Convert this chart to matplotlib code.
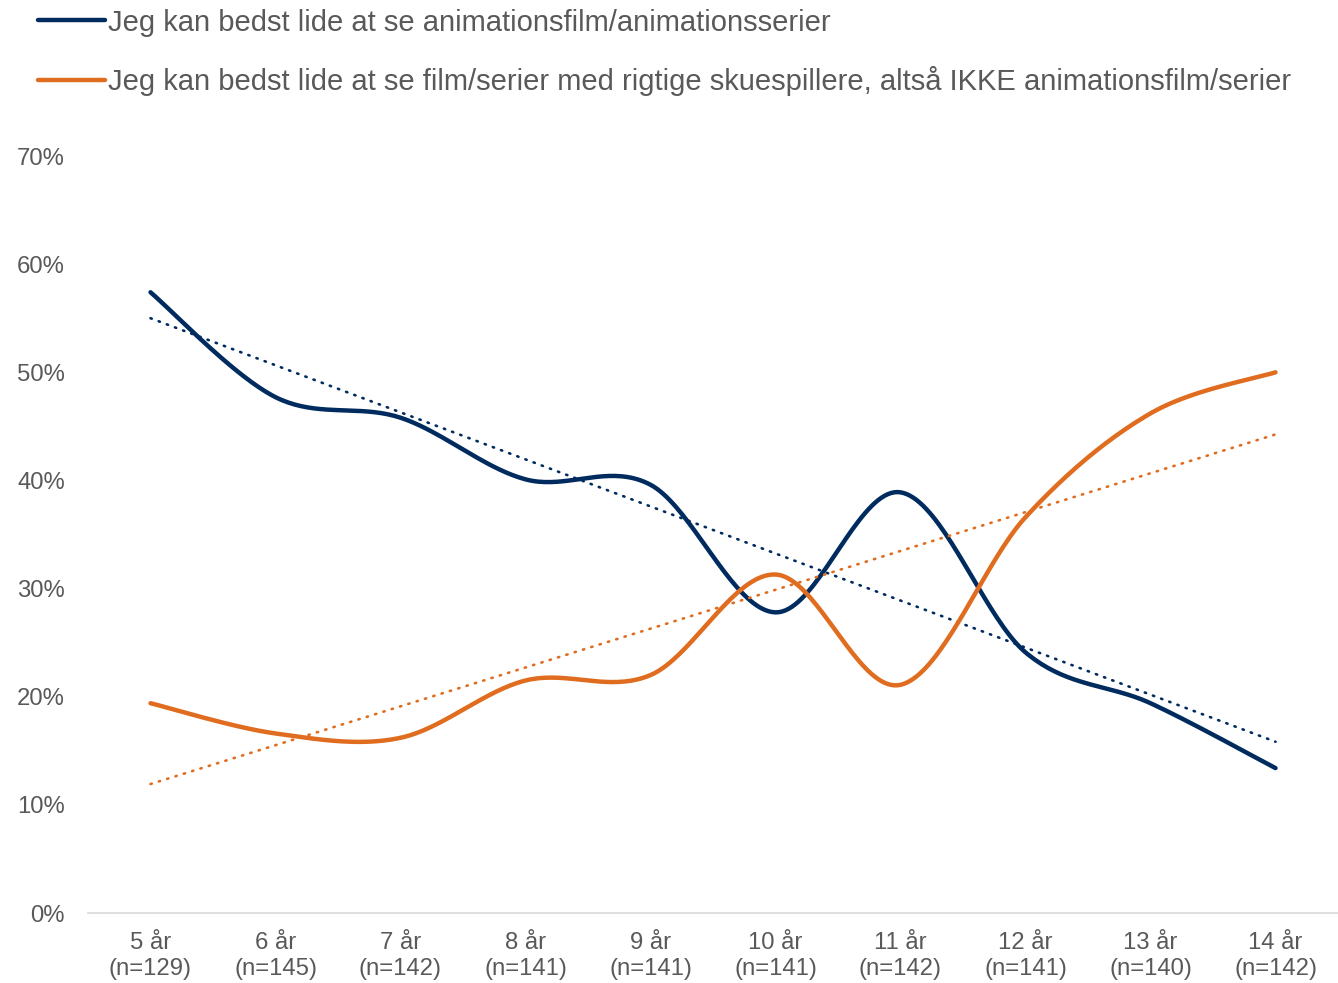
import matplotlib.pyplot as plt
import numpy as np

plt.rcParams['font.family'] = ['Liberation Sans', 'DejaVu Sans']

# Data
kategorier = ['5 år\n(n=129)', '6 år\n(n=145)', '7 år\n(n=142)', '8 år\n(n=141)', '9 år\n(n=141)',
              '10 år\n(n=141)', '11 år\n(n=142)', '12 år\n(n=141)', '13 år\n(n=140)', '14 år\n(n=142)']
animation = [57.4, 47.7, 45.8, 40.1, 39.6, 27.8, 38.9, 24.1, 19.4, 13.4]
rigtige = [19.4, 16.6, 16.2, 21.5, 22.0, 31.3, 21.1, 36.6, 46.2, 50.0]

navn_animation = 'Jeg kan bedst lide at se animationsfilm/animationsserier'
navn_rigtige = 'Jeg kan bedst lide at se film/serier med rigtige skuespillere, altså IKKE animationsfilm/serier'

navy = '#002B5F'
orange = '#E06C1F'
grå = '#595959'


# Udglattet linje som i Excel (Bezier gennem punkterne)
def smooth(x, y, n=40):
    x = np.asarray(x, float)
    y = np.asarray(y, float)
    px = np.concatenate([[x[0]], x, [x[-1]]])
    py = np.concatenate([[y[0]], y, [y[-1]]])
    xs, ys = [], []
    t = np.linspace(0, 1, n)
    for i in range(1, len(px) - 2):
        p0 = np.array([px[i], py[i]])
        p3 = np.array([px[i + 1], py[i + 1]])
        c1 = p0 + (np.array([px[i + 1], py[i + 1]]) - np.array([px[i - 1], py[i - 1]])) / 6
        c2 = p3 - (np.array([px[i + 2], py[i + 2]]) - np.array([px[i], py[i]])) / 6
        b = ((1 - t) ** 3)[:, None] * p0 + (3 * (1 - t) ** 2 * t)[:, None] * c1 \
            + (3 * (1 - t) * t ** 2)[:, None] * c2 + (t ** 3)[:, None] * p3
        xs.extend(b[:, 0])
        ys.extend(b[:, 1])
    return np.array(xs), np.array(ys)


fig = plt.figure(figsize=(13.38, 9.83), dpi=100)
ax = fig.add_axes([88 / 1338, 70 / 983, 1 - 88 / 1338, (913 - 156) / 983])

x = np.arange(len(kategorier))

for værdier, farve, navn in [(animation, navy, navn_animation), (rigtige, orange, navn_rigtige)]:
    sx, sy = smooth(x, værdier)
    ax.plot(sx, sy, color=farve, linewidth=3.2, solid_capstyle='round', label=navn)
    # lineær tendenslinje
    k, m = np.polyfit(x, værdier, 1)
    ax.plot(x, k * x + m, color=farve, linewidth=1.9, linestyle=(0, (0.5, 2.8)),
            dash_capstyle='round')

ax.set_xlim(-0.5, len(kategorier) - 0.5)
ax.set_ylim(0, 70)
ax.set_yticks(np.arange(0, 71, 10))
ax.set_yticklabels([f'{v}%' for v in range(0, 71, 10)])
ax.set_xticks(x)
ax.set_xticklabels(kategorier, linespacing=1.25)
ax.tick_params(axis='both', length=0, labelsize=17.2, colors=grå)
ax.tick_params(axis='y', pad=16.5)
ax.tick_params(axis='x', pad=13.5)

for side in ['top', 'right', 'left']:
    ax.spines[side].set_visible(False)
ax.spines['bottom'].set_color('#D9D9D9')
ax.spines['bottom'].set_linewidth(1.2)

handles, labels = ax.get_legend_handles_labels()
leg = fig.legend(handles, labels, loc='upper left', bbox_to_anchor=(26 / 1338, 1 + 3 / 983),
                 frameon=False, fontsize=21, handlelength=2.3, handletextpad=0.12,
                 labelspacing=1.0, borderaxespad=0)
for txt in leg.get_texts():
    txt.set_color(grå)

fig.savefig('out.png', dpi=100)
